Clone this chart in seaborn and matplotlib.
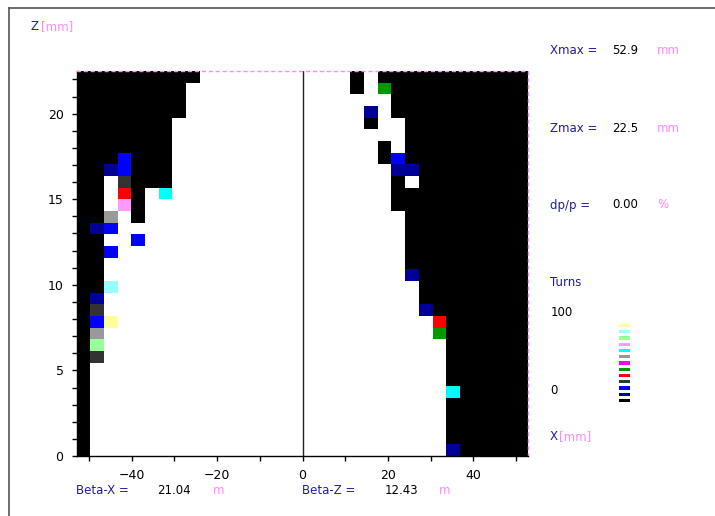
import matplotlib
matplotlib.use("Agg")
import matplotlib.pyplot as plt
import numpy as np
import seaborn as sns
from matplotlib.colors import ListedColormap

# aperture scan limits and machine parameters
X_MAX = 52.9
Z_MAX = 22.5
DP_P = "0.00"
BETA_X = "21.04"
BETA_Z = "12.43"

# loss turn class per cell ('.' = survived), rows from top (z = Zmax) to bottom (z = 0)
# left half: x < 0, 16 columns from -Xmax ; right half: x > 0, 16 columns up to +Xmax
LEFT_ROWS = [
    "000000000.......",
    "00000000........",
    "00000000........",
    "00000000........",
    "0000000.........",
    "0000000.........",
    "0000000.........",
    "0002000.........",
    "0012000.........",
    "00.3000.........",
    "00.40.8.........",
    "00.90...........",
    "007.0...........",
    "012.............",
    "00..2...........",
    "002.............",
    "00..............",
    "00..............",
    "00b.............",
    "01..............",
    "03..............",
    "02c.............",
    "07..............",
    "0a..............",
    "03..............",
    "0...............",
    "0...............",
    "0...............",
    "0...............",
    "0...............",
    "0...............",
    "0...............",
    "0...............",
]
RIGHT_ROWS = [
    "...0.00000000000",
    "...0.50000000000",
    "......0000000000",
    "....1.0000000000",
    "....0..000000000",
    ".......000000000",
    ".....0.000000000",
    ".....02000000000",
    "......1100000000",
    "......0.00000000",
    "......0000000000",
    "......0000000000",
    ".......000000000",
    ".......000000000",
    ".......000000000",
    ".......000000000",
    ".......000000000",
    ".......100000000",
    "........00000000",
    "........00000000",
    "........10000000",
    ".........4000000",
    ".........5000000",
    "..........000000",
    "..........000000",
    "..........000000",
    "..........000000",
    "..........800000",
    "..........000000",
    "..........000000",
    "..........000000",
    "..........000000",
    "..........100000",
]

# turn classes 0 (black) .. 12 (light yellow)
TURN_COLORS = ["#000000", "#000099", "#0000ff", "#333333", "#ff0000", "#009900",
               "#ff00ff", "#999999", "#00ffff", "#ff99ff", "#99ff99", "#99ffff",
               "#ffff99"]

X_MAJOR = [-40, -20, 0, 20, 40]
X_MINOR = [-50, -30, -10, 10, 30, 50]
Z_MAJOR = [0, 5, 10, 15, 20]

BLUE = "#1f1f99"
PINK = "#ff88ff"
W, H = 715, 516

rows = [l + "." + r for l, r in zip(LEFT_ROWS, RIGHT_ROWS)]
grid = np.array([[np.nan if ch == "." else int(ch, 16) for ch in row] for row in rows])
cmap = ListedColormap(TURN_COLORS)
nlev = len(TURN_COLORS)

fig = plt.figure(figsize=(W / 100, H / 100), dpi=100)


def px(x, y):
    return x / W, 1 - y / H


rect = [76.7 / W, (H - 456) / H, 451.6 / W, 385.1 / H]

# cells
ax_hm = fig.add_axes(rect)
sns.heatmap(grid, cmap=cmap, vmin=-0.5, vmax=nlev - 0.5, cbar=False,
            xticklabels=False, yticklabels=False, ax=ax_hm)
ax_hm.set_axis_off()

# real-unit axes on top
ax = fig.add_axes(rect)
ax.patch.set_alpha(0)
ax.set_xlim(-X_MAX, X_MAX)
ax.set_ylim(0, Z_MAX)
ax.axvline(0, color="#222222", linewidth=1)
ax.set_xticks(X_MAJOR)
ax.set_xticks(X_MINOR, minor=True)
ax.set_yticks(Z_MAJOR)
ax.set_yticks(np.arange(0, Z_MAX, 1), minor=True)
ax.tick_params(which="both", direction="out", length=3.5, width=1, labelsize=9,
               colors="black", pad=6)
for s in ["left", "bottom"]:
    ax.spines[s].set_color("black")
    ax.spines[s].set_linewidth(1)
for s in ["top", "right"]:
    ax.spines[s].set_color(PINK)
    ax.spines[s].set_linewidth(1)
    ax.spines[s].set_linestyle((0, (2, 3)))

# turns legend
ax_lg = fig.add_axes([617 / W, (H - 403) / H, 13.5 / W, 81 / H])
sns.heatmap(np.arange(nlev)[::-1].reshape(-1, 1), cmap=cmap, vmin=-0.5,
            vmax=nlev - 0.5, cbar=False, xticklabels=False, yticklabels=False,
            linewidths=1.0, linecolor="white", ax=ax_lg)
ax_lg.set_axis_off()

fs = 8.5


def txt(x, y, s, color, **kw):
    fig.text(*px(x, y), s, color=color, fontsize=fs, va="center", ha="left", **kw)


txt(31, 27, "Z", BLUE)
txt(41, 27, "[mm]", PINK)

for y, name, val, unit in [(50, "Xmax =", f"{X_MAX}", "mm"),
                           (128, "Zmax =", f"{Z_MAX}", "mm"),
                           (205, "dp/p =", DP_P, "%")]:
    txt(550, y, name, BLUE)
    txt(612, y, val, "black")
    txt(657, y, unit, PINK)

txt(550, 282, "Turns", BLUE)
txt(551, 313, "100", "black")
txt(550, 390, "0", "black")
txt(550, 437, "X", BLUE)
txt(559, 437, "[mm]", PINK)

txt(76, 491, "Beta-X =", BLUE)
txt(157, 491, BETA_X, "black")
txt(213, 491, "m", PINK)
txt(302, 491, "Beta-Z =", BLUE)
txt(385, 491, BETA_Z, "black")
txt(439, 491, "m", PINK)

# page frame (top and left edges)
fig.add_artist(plt.Line2D([9 / W, 1], [1 - 7.5 / H, 1 - 7.5 / H], color="#555555",
                          linewidth=1.2, transform=fig.transFigure))
fig.add_artist(plt.Line2D([9 / W, 9 / W], [0, 1 - 7.5 / H], color="#555555",
                          linewidth=1.2, transform=fig.transFigure))

fig.savefig("out.png", dpi=100)
plt.close(fig)
